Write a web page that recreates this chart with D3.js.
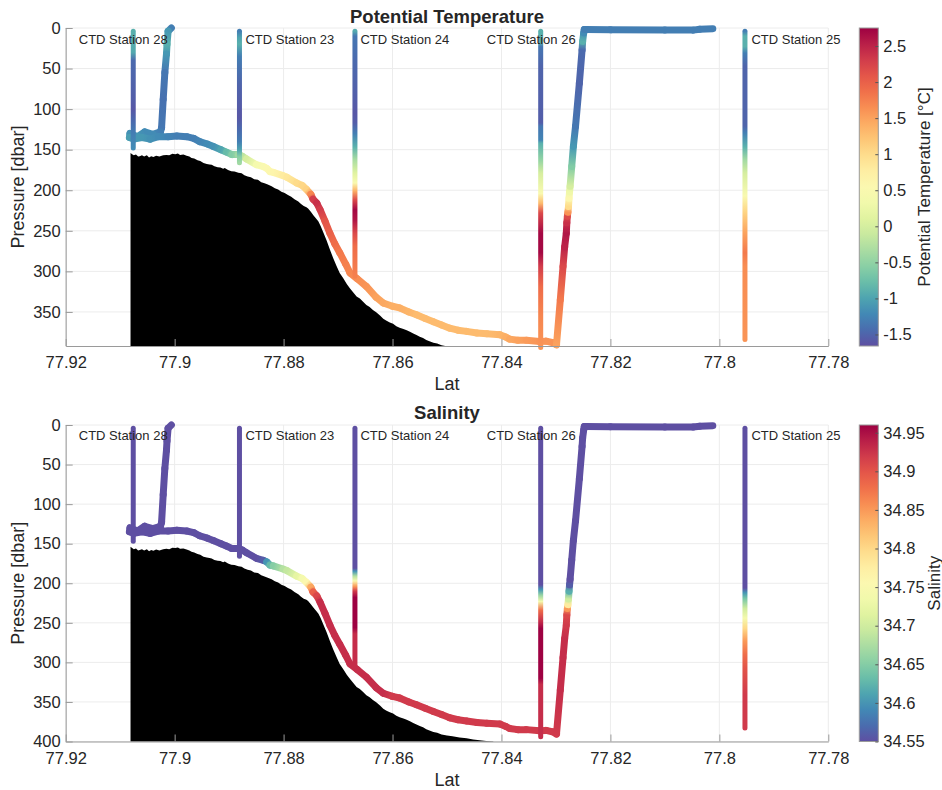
<!DOCTYPE html>
<html>
<head>
<meta charset="utf-8">
<script src="https://cdn.jsdelivr.net/npm/d3@7"></script>
<style>
  body { margin: 0; background: #fff; }
  text { font-family: Helvetica, Arial, "Liberation Sans", sans-serif; fill: #262626; }
</style>
</head>
<body>
<svg id="chart" width="942" height="790"></svg>
<script>
/* ------------------------------------------------------------------ */
/*  Data                                                               */
/* ------------------------------------------------------------------ */

const latTicks = [77.92, 77.9, 77.88, 77.86, 77.84, 77.82, 77.8, 77.78];
const tempTicks = [-1.5, -1, -0.5, 0, 0.5, 1, 1.5, 2, 2.5];
const salTicks = [34.55, 34.6, 34.65, 34.7, 34.75, 34.8, 34.85, 34.9, 34.95];
const presTicksTop = [0, 50, 100, 150, 200, 250, 300, 350];
const presTicksBottom = [0, 50, 100, 150, 200, 250, 300, 350, 400];

// CTD stations (order: 28, 23, 24, 26, 25)
const stationNames = ['CTD Station 28', 'CTD Station 23', 'CTD Station 24', 'CTD Station 26', 'CTD Station 25'];
const stationLat = [77.9076, 77.8881, 77.8669, 77.8328, 77.7953];
const stationLabelLat = [77.9176, 77.8870, 77.8659, 77.8427, 77.7941];

// cast profiles: pressure knots and values
const tempCastP = [
  [4, 30, 40, 88, 100, 115, 130, 148],
  [4, 12, 20, 35, 70, 110, 125, 140, 150, 158, 166],
  [4, 10, 40, 88, 105, 117, 130, 146, 162, 179, 191, 201, 212, 224, 237, 253, 269, 306],
  [4, 18, 23, 47, 117, 121, 138, 142, 162, 179, 204, 216, 228, 253, 277, 294, 319, 355, 394],
  [4, 10, 23, 31, 47, 121, 129, 146, 162, 179, 207, 228, 253, 277, 294, 384]
];
const tempCastV = [
  [-0.9, -0.95, -1.45, -1.55, -1.6, -1.45, -1.3, -1.2],
  [-1.3, -1.0, -0.9, -1.3, -1.5, -1.6, -1.45, -1.3, -1.0, -0.6, -0.4],
  [-0.95, -1.35, -1.45, -1.55, -1.6, -1.55, -1.3, -0.9, -0.35, 0.1, 0.5, 1.4, 2.2, 2.7, 2.6, 2.2, 1.9, 1.75],
  [-0.9, -0.9, -1.35, -1.5, -1.55, -1.35, -1.25, -0.9, -0.5, 0.0, 0.5, 1.3, 2.2, 2.7, 2.7, 2.3, 1.9, 1.7, 1.6],
  [-1.3, -0.9, -0.9, -1.3, -1.5, -1.5, -1.3, -0.9, -0.4, 0.0, 0.5, 1.1, 1.5, 1.8, 1.65, 1.6]
];
const salCastP = [
  [4, 147],
  [4, 166],
  [4, 181, 185, 191, 197, 204, 210, 218, 256, 264, 307],
  [4, 202, 208, 215, 223, 234, 248, 257, 320, 328, 394],
  [4, 206, 212, 219, 232, 244, 257, 273, 290, 307, 341, 383]
];
const salCastV = [
  [34.55, 34.55],
  [34.55, 34.55],
  [34.55, 34.55, 34.6, 34.68, 34.75, 34.85, 34.92, 34.96, 34.96, 34.93, 34.93],
  [34.55, 34.55, 34.6, 34.66, 34.74, 34.88, 34.93, 34.96, 34.96, 34.93, 34.93],
  [34.55, 34.55, 34.6, 34.64, 34.7, 34.74, 34.8, 34.85, 34.88, 34.9, 34.92, 34.92]
];

// towed instrument track
const towLat = [77.9006, 77.9012, 77.9014, 77.9015, 77.9018, 77.9021, 77.9024, 77.9026, 77.9040, 77.9055,
  77.9068, 77.9082, 77.9083, 77.9075, 77.9060, 77.9045, 77.9030, 77.9012, 77.8996, 77.8978,
  77.8965, 77.8954, 77.8940, 77.8929, 77.8915, 77.8905, 77.8895, 77.8883, 77.8876, 77.8868,
  77.8850, 77.8837, 77.8831, 77.8825, 77.8819, 77.8801, 77.8794, 77.8776, 77.8766, 77.8758,
  77.8750, 77.8746, 77.8739, 77.8733, 77.8724, 77.8715, 77.8706, 77.8697, 77.8686, 77.8678,
  77.8665, 77.8648, 77.8630, 77.8617, 77.8600, 77.8587, 77.8570, 77.8556, 77.8540, 77.8525,
  77.8510, 77.8495, 77.8480, 77.8464, 77.8445, 77.8427, 77.8403, 77.8392, 77.8385, 77.8370,
  77.8354, 77.8330, 77.8318, 77.8305, 77.8299, 77.8292, 77.8287, 77.8284, 77.8281, 77.8280,
  77.8279, 77.8278, 77.8277, 77.8276, 77.8275, 77.8274, 77.8271, 77.8268, 77.8264, 77.8257,
  77.8252, 77.8251, 77.8249, 77.8248, 77.8244, 77.8200, 77.8100, 77.8048, 77.8036, 77.8012];
const towP = [0, 4, 20, 32, 55, 88, 123, 128, 131, 128,
  134, 130, 135, 137, 135, 137, 134, 134, 133, 134,
  136, 140, 143, 146, 150, 153, 156, 156, 158, 161.5,
  168.5, 171, 173, 177, 178, 182, 184, 191, 194, 199,
  205, 211, 216, 224, 238, 253, 266, 277, 291, 302,
  309, 318.6, 332, 339, 343, 345, 350, 353.5, 358, 362,
  366, 370, 372.5, 374, 376, 377, 378, 381, 383.5, 385,
  385, 386.4, 386, 388, 390.5, 335, 294, 270, 253, 240,
  232, 227, 220, 210, 202, 195, 170.6, 146, 121, 68,
  27, 16.5, 6, 2, 2, 2.3, 2.5, 2.6, 1.5, 0.8];
const towTemp = [-1.3, -1.1, -0.9, -1.1, -1.35, -1.4, -1.35, -1.3, -1.2, -1.2,
  -1.1, -1.15, -1.05, -1.1, -1.1, -1.15, -1.2, -1.25, -1.3, -1.3,
  -1.3, -1.25, -1.2, -1.15, -1.0, -0.8, -0.6, -0.4, -0.2, 0.0,
  0.4, 0.5, 0.55, 0.6, 0.65, 0.8, 0.85, 1.0, 1.05, 1.1,
  1.7, 2.3, 2.4, 2.3, 2.1, 2.0, 1.9, 1.8, 1.75, 1.7,
  1.65, 1.6, 1.5, 1.45, 1.4, 1.4, 1.35, 1.3, 1.3, 1.3,
  1.3, 1.3, 1.3, 1.3, 1.3, 1.3, 1.35, 1.4, 1.45, 1.5,
  1.55, 1.6, 1.6, 1.6, 1.5, 1.8, 2.2, 2.5, 2.6, 2.4,
  2.2, 1.6, 1.0, 0.6, 0.3, 0.0, -0.6, -1.1, -1.35, -1.5,
  -1.45, -0.9, -1.2, -1.3, -1.3, -1.3, -1.3, -1.3, -1.3, -1.3];
const towSal = [34.55, 34.55, 34.55, 34.55, 34.55, 34.55, 34.55, 34.55, 34.55, 34.55,
  34.55, 34.55, 34.55, 34.55, 34.55, 34.55, 34.55, 34.55, 34.55, 34.55,
  34.55, 34.55, 34.55, 34.55, 34.55, 34.55, 34.55, 34.55, 34.55, 34.55,
  34.55, 34.56, 34.6, 34.63, 34.65, 34.68, 34.69, 34.72, 34.74, 34.76,
  34.84, 34.89, 34.91, 34.93, 34.93, 34.93, 34.93, 34.93, 34.93, 34.93,
  34.93, 34.93, 34.93, 34.93, 34.92, 34.92, 34.92, 34.92, 34.92, 34.92,
  34.92, 34.92, 34.92, 34.92, 34.92, 34.92, 34.92, 34.92, 34.92, 34.92,
  34.92, 34.92, 34.92, 34.92, 34.92, 34.93, 34.93, 34.93, 34.92, 34.91,
  34.85, 34.78, 34.7, 34.62, 34.56, 34.55, 34.55, 34.55, 34.55, 34.55,
  34.55, 34.55, 34.55, 34.55, 34.55, 34.55, 34.55, 34.55, 34.55, 34.55];

// seafloor
const bathyLat = [77.9081, 77.9078, 77.9075, 77.9071, 77.9067, 77.9064, 77.9060, 77.9056, 77.9051, 77.9047,
  77.9043, 77.9039, 77.9034, 77.9028, 77.9021, 77.9015, 77.9010, 77.9004, 77.8999, 77.8994,
  77.8990, 77.8984, 77.8978, 77.8973, 77.8969, 77.8964, 77.8958, 77.8953, 77.8947, 77.8941,
  77.8936, 77.8932, 77.8927, 77.8921, 77.8916, 77.8911, 77.8908, 77.8902, 77.8896, 77.8890,
  77.8883, 77.8877, 77.8872, 77.8866, 77.8860, 77.8854, 77.8847, 77.8841, 77.8835, 77.8829,
  77.8822, 77.8816, 77.8810, 77.8804, 77.8798, 77.8792, 77.8786, 77.8780, 77.8773, 77.8768,
  77.8763, 77.8758, 77.8755, 77.8750, 77.8745, 77.8740, 77.8736, 77.8732, 77.8727, 77.8721,
  77.8715, 77.8709, 77.8703, 77.8697, 77.8691, 77.8684, 77.8678, 77.8672, 77.8666, 77.8660,
  77.8654, 77.8648, 77.8642, 77.8636, 77.8630, 77.8623, 77.8617, 77.8611, 77.8605, 77.8599,
  77.8593, 77.8587, 77.8580, 77.8574, 77.8568, 77.8562, 77.8556, 77.8550, 77.8544, 77.8538,
  77.8531, 77.8525, 77.8518, 77.8510, 77.8500, 77.8490, 77.8477, 77.8464, 77.8452, 77.8440,
  77.8428, 77.8415];
const bathyP = [154, 155.5, 157, 156, 158.5, 158, 157, 158.5, 157, 159.5,
  158, 159, 157.5, 158.5, 157, 156.5, 157, 155, 155.5, 154.8,
  156.5, 156, 157.5, 158.5, 160.3, 161, 163, 164, 166.5, 167.5,
  168.2, 168.6, 170.5, 171.5, 172, 173.5, 172.6, 175, 176.5, 177,
  178.5, 179, 181.5, 183, 184, 186.5, 187, 190, 191.5, 193,
  195, 197.5, 199, 202, 203.5, 206, 208, 211, 213.8, 217,
  219.5, 221, 222.5, 226.5, 231, 235, 238.4, 244, 252, 262,
  273, 283.5, 293, 302, 308, 315.5, 321, 326, 331, 333.5,
  337.5, 341.5, 344, 347.5, 350.5, 354.5, 358.5, 361, 363, 364.5,
  367.5, 369.5, 371, 372.5, 374.5, 376.5, 378.5, 380.5, 382, 384.5,
  386.5, 388, 389, 391, 392.5, 393.5, 395, 396, 397.5, 398.5,
  399.3, 400];

/* ------------------------------------------------------------------ */
/*  Drawing                                                            */
/* ------------------------------------------------------------------ */

const svg = d3.select('#chart');
const defs = svg.append('defs');
let gradCount = 0;

const x = d3.scaleLinear().domain([77.92, 77.78]).range([65.7, 828.3]);
const AXIS_GRAY = '#9a9a9a';
const GRID_GRAY = '#ececec';

function drawPanel(cfg) {
  const y = d3.scaleLinear().domain([0, cfg.pMax]).range([cfg.top, cfg.bottom]);
  const cnorm = d3.scaleLinear().domain(cfg.cDomain).range([1, 0]).clamp(true);
  const color = v => d3.interpolateSpectral(cnorm(v));
  const g = svg.append('g');

  // grid
  g.append('g').selectAll('line').data(latTicks).join('line')
    .attr('x1', d => x(d)).attr('x2', d => x(d))
    .attr('y1', cfg.top).attr('y2', cfg.bottom)
    .attr('stroke', GRID_GRAY);
  g.append('g').selectAll('line').data(cfg.pTicks).join('line')
    .attr('x1', x.range()[0]).attr('x2', x.range()[1])
    .attr('y1', d => y(d)).attr('y2', d => y(d))
    .attr('stroke', GRID_GRAY);

  // seafloor, clipped to the axes box
  const clipId = 'clip-' + cfg.key;
  defs.append('clipPath').attr('id', clipId).append('rect')
    .attr('x', x.range()[0]).attr('y', cfg.top)
    .attr('width', x.range()[1] - x.range()[0]).attr('height', cfg.bottom - cfg.top);
  const area = d3.area().x(d => x(d[0])).y0(y(430)).y1(d => y(d[1]));
  g.append('path')
    .datum(d3.zip(bathyLat, bathyP))
    .attr('clip-path', `url(#${clipId})`)
    .attr('d', area)
    .attr('fill', '#000');

  // towed track: one segment per pair of knots, coloured by a gradient
  const tow = d3.zip(towLat, towP, cfg.towVals);
  const segs = d3.pairs(tow);
  const segG = g.append('g').attr('stroke-linecap', 'round').attr('stroke-width', 7);
  segs.forEach(([a, b]) => {
    const id = 'g' + (gradCount++);
    const grad = defs.append('linearGradient').attr('id', id)
      .attr('gradientUnits', 'userSpaceOnUse')
      .attr('x1', x(a[0])).attr('y1', y(a[1]))
      .attr('x2', x(b[0]) + 0.01).attr('y2', y(b[1]) + 0.01);
    grad.append('stop').attr('offset', 0).attr('stop-color', color(a[2]));
    grad.append('stop').attr('offset', 1).attr('stop-color', color(b[2]));
    segG.append('line')
      .attr('x1', x(a[0])).attr('y1', y(a[1]))
      .attr('x2', x(b[0])).attr('y2', y(b[1]))
      .attr('stroke', `url(#${id})`);
  });

  // CTD casts
  stationLat.forEach((lat, i) => {
    const ps = cfg.castP[i], vs = cfg.castV[i];
    const p0 = ps[0], p1 = ps[ps.length - 1];
    const id = 'g' + (gradCount++);
    const grad = defs.append('linearGradient').attr('id', id)
      .attr('gradientUnits', 'userSpaceOnUse')
      .attr('x1', x(lat)).attr('x2', x(lat))
      .attr('y1', y(p0)).attr('y2', y(p1));
    ps.forEach((p, k) => {
      grad.append('stop').attr('offset', (p - p0) / (p1 - p0)).attr('stop-color', color(vs[k]));
    });
    g.append('line')
      .attr('x1', x(lat)).attr('x2', x(lat))
      .attr('y1', y(p0)).attr('y2', y(p1))
      .attr('stroke', `url(#${id})`)
      .attr('stroke-width', 5)
      .attr('stroke-linecap', 'round');
  });

  // station labels
  g.append('g').selectAll('text').data(stationNames).join('text')
    .attr('x', (d, i) => x(stationLabelLat[i]))
    .attr('y', y(19.5))
    .attr('font-size', 13)
    .text(d => d);

  // axes (ticks pointing inward)
  const yAxis = g.append('g')
    .attr('transform', `translate(${x.range()[0]},0)`)
    .call(d3.axisLeft(y).tickValues(cfg.pTicks).tickSizeInner(-7).tickSizeOuter(0).tickPadding(5)
      .tickFormat(d => String(d)));
  const xAxis = g.append('g')
    .attr('transform', `translate(0,${cfg.bottom})`)
    .call(d3.axisBottom(x).tickValues(latTicks).tickSizeInner(-7).tickSizeOuter(0).tickPadding(10.5)
      .tickFormat(d => String(d)));
  [yAxis, xAxis].forEach(ax => {
    ax.select('.domain').attr('stroke', AXIS_GRAY);
    ax.selectAll('.tick line').attr('stroke', AXIS_GRAY);
    ax.selectAll('.tick text').attr('font-size', 16.5).attr('fill', '#262626')
      .style('font-family', 'Helvetica, Arial, "Liberation Sans", sans-serif');
  });

  // axis labels and title
  g.append('text')
    .attr('transform', `translate(18,${(cfg.top + cfg.bottom) / 2}) rotate(-90)`)
    .attr('text-anchor', 'middle').attr('dominant-baseline', 'central')
    .attr('font-size', 18)
    .text('Pressure [dbar]');
  g.append('text')
    .attr('x', 447).attr('y', cfg.latLabelY)
    .attr('text-anchor', 'middle').attr('font-size', 18)
    .text('Lat');
  g.append('text')
    .attr('x', 447).attr('y', cfg.titleY)
    .attr('text-anchor', 'middle').attr('font-size', 18.5).attr('font-weight', 'bold')
    .attr('fill', '#000')
    .text(cfg.title);

  // colorbar
  const cb = { x: 859.3, w: 19 };
  const cy = d3.scaleLinear().domain(cfg.cDomain).range([cfg.bottom, cfg.top]);
  const cbId = 'cb-' + cfg.key;
  const cbGrad = defs.append('linearGradient').attr('id', cbId)
    .attr('x1', 0).attr('x2', 0).attr('y1', 0).attr('y2', 1);
  d3.range(0, 1.0001, 0.05).forEach(t => {
    cbGrad.append('stop').attr('offset', t).attr('stop-color', d3.interpolateSpectral(t));
  });
  g.append('rect')
    .attr('x', cb.x).attr('y', cfg.top).attr('width', cb.w).attr('height', cfg.bottom - cfg.top)
    .attr('fill', `url(#${cbId})`)
    .attr('stroke', AXIS_GRAY).attr('stroke-width', 1);
  const cAxis = g.append('g')
    .attr('transform', `translate(${cb.x + cb.w},0)`)
    .call(d3.axisRight(cy).tickValues(cfg.cTicks).tickSizeInner(-3).tickSizeOuter(0).tickPadding(5)
      .tickFormat(d => String(d)));
  cAxis.select('.domain').remove();
  cAxis.selectAll('.tick line').attr('stroke', '#555');
  cAxis.selectAll('.tick text').attr('font-size', 16.5).attr('fill', '#262626')
    .style('font-family', 'Helvetica, Arial, "Liberation Sans", sans-serif');
  g.append('text')
    .attr('transform', `translate(${cfg.cbLabelX},${(cfg.top + cfg.bottom) / 2}) rotate(-90)`)
    .attr('text-anchor', 'middle').attr('dominant-baseline', 'central')
    .attr('font-size', 17)
    .text(cfg.cbLabel);
}

drawPanel({
  key: 'temp', top: 28, bottom: 346, pMax: 392, pTicks: presTicksTop,
  cDomain: [-1.66, 2.75], cTicks: tempTicks,
  towVals: towTemp, castP: tempCastP, castV: tempCastV,
  title: 'Potential Temperature', titleY: 23, latLabelY: 390,
  cbLabel: 'Potential Temperature [°C]', cbLabelX: 924
});

drawPanel({
  key: 'sal', top: 425, bottom: 741.5, pMax: 400, pTicks: presTicksBottom,
  cDomain: [34.55, 34.96], cTicks: salTicks,
  towVals: towSal, castP: salCastP, castV: salCastV,
  title: 'Salinity', titleY: 419, latLabelY: 786,
  cbLabel: 'Salinity', cbLabelX: 934
});
</script>
</body>
</html>
